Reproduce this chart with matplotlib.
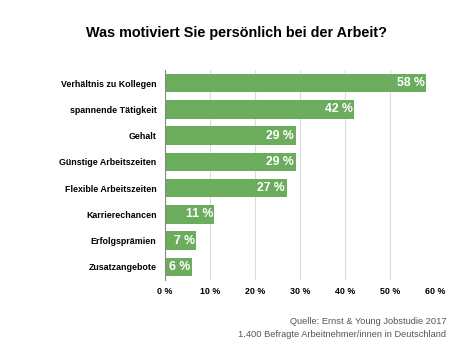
import matplotlib.pyplot as plt
import numpy as np

plt.rcParams['font.family'] = ['Liberation Sans', 'DejaVu Sans']

kategorien = ['Verhältnis zu Kollegen', 'spannende Tätigkeit', 'Gehalt',
              'Günstige Arbeitszeiten', 'Flexible Arbeitszeiten', 'Karrierechancen',
              'Erfolgsprämien', 'Zusatzangebote']
werte = [58, 42, 29, 29, 27, 11, 7, 6]
ticks = [0, 10, 20, 30, 40, 50, 60]

fig = plt.figure(figsize=(4.74, 3.55), dpi=100)
ax = fig.add_axes([0.348, 0.211, 0.57, 0.592])

y = np.arange(len(kategorien))
ax.barh(y, werte, height=0.7, color='#6BAD5D', zorder=2)
ax.set_ylim(len(kategorien) - 0.5, -0.5)
ax.set_xlim(0, 60)
ax.set_yticks(y)
ax.set_yticklabels(kategorien, fontsize=6.4, fontweight='bold')
ax.set_xticks(ticks)
ax.set_xticklabels([f'{t} %' for t in ticks], fontsize=6.4, fontweight='bold')
ax.tick_params(length=0, pad=6)
ax.tick_params(axis='x', pad=5)
ax.grid(axis='x', color='#dcdcdc', linewidth=0.8, zorder=0)
for s in ['top', 'right', 'bottom']:
    ax.spines[s].set_visible(False)
ax.spines['left'].set_color('#888888')
ax.spines['left'].set_linewidth(0.8)

for i, v in enumerate(werte):
    ax.text(v - 0.3, i, f'{v} %', ha='right', va='center', color='white',
            fontsize=8.8, fontweight='bold', zorder=3)

fig.text(0.5, 0.908, 'Was motiviert Sie persönlich bei der Arbeit?',
         ha='center', va='center', fontsize=10.4, fontweight='bold')
fig.text(0.941, 0.093, 'Quelle: Ernst & Young Jobstudie 2017', ha='right',
         va='center', fontsize=6.7, color='#555555')
fig.text(0.941, 0.059, '1.400 Befragte Arbeitnehmer/innen in Deutschland', ha='right',
         va='center', fontsize=6.7, color='#555555')

fig.savefig('out.png', dpi=100)
